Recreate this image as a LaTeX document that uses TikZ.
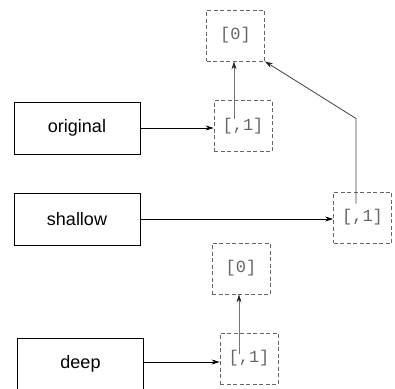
\documentclass[tikz,border=0pt]{standalone}
\usepackage{fontspec}
\setmainfont{Liberation Sans}
\newfontfamily\cellfont{Liberation Mono}
\usetikzlibrary{arrows.meta}

\begin{document}
\begin{tikzpicture}[x=1pt,y=-1pt,>={Stealth[length=8pt,width=5pt]},
    var/.style={draw,line width=0.8pt,minimum width=126pt,minimum height=52pt,
      font=\fontsize{18}{20}\selectfont},
    cell/.style={draw=black!60,dash pattern=on 4pt off 2.5pt,line width=0.8pt,
      minimum width=58pt,minimum height=51pt,text=black!60,
      font=\cellfont\fontsize{17}{20}\selectfont},
    ref/.style={-{Stealth[length=8pt,width=5pt,color=black!85]},
      draw=black!55,line width=0.8pt}]
  \useasboundingbox (0,0) rectangle (395,388);

  % variables
  \node[var] (orig) at (77,128)   {original};
  \node[var] (shal) at (77,219)   {shallow};
  \node[var] (deep) at (80.5,364) {deep};

  % lists
  \node[cell] (o0) at (235.5,35.5) {[0]};
  \node[cell] (o1) at (243,126)    {[,1]};
  \node[cell] (s1) at (362.5,217.5) {[,1]};
  \node[cell] (d0) at (241,268.5)  {[0]};
  \node[cell] (d1) at (249,358.5)  {[,1]};

  \coordinate (o1p) at ([shift={(-9,-7)}]o1.center);
  \coordinate (s1p) at ([shift={(-6.5,-14)}]s1.center);
  \coordinate (d1p) at ([shift={(-10,-5)}]d1.center);
  \coordinate (deepout) at ([yshift=2pt]deep.east);

  \draw[->,line width=0.8pt] (orig) -- (orig -| o1.west);
  \draw[->,line width=0.8pt] (shal) -- (shal -| s1.west);
  \draw[->,line width=0.8pt] (deepout) -- (deepout -| d1.west);

  \draw[ref] (o1p) -- (o1p |- o0.south);
  \draw[ref,draw=black!75] (s1p) -- ++(0,-85) -- (o0.south east);
  \draw[ref] (d1p) -- (d1p |- d0.south);
\end{tikzpicture}
\end{document}
